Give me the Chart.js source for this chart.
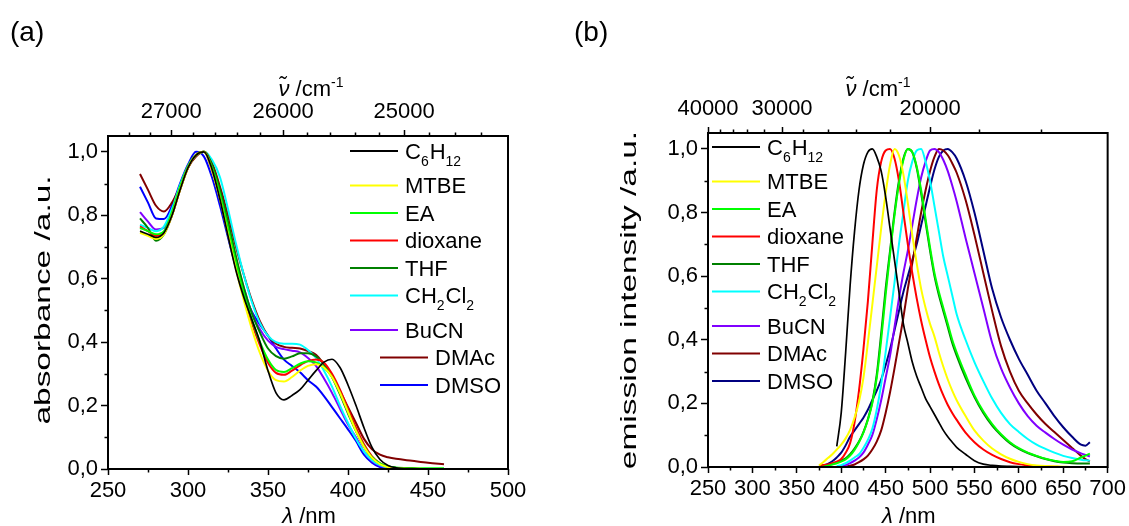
<!DOCTYPE html>
<html>
<head>
<meta charset="utf-8">
<script src="https://cdn.jsdelivr.net/npm/chart.js@4.4.1/dist/chart.umd.min.js"></script>
<style>
  html, body { margin: 0; padding: 0; background: #ffffff; }
  #wrap { position: relative; width: 1129px; height: 526px; overflow: hidden; background: #ffffff; }
  canvas { position: absolute; top: 0; }
  #absChart { left: 0; }
  #emChart { left: 564px; }
</style>
</head>
<body>
<div id="wrap">
  <canvas id="absChart" width="564" height="526"></canvas>
  <canvas id="emChart" width="565" height="526"></canvas>
</div>
<script>
// ---------- solvents ----------
const solvents = ['C6H12', 'MTBE', 'EA', 'dioxane', 'THF', 'CH2Cl2', 'BuCN', 'DMAc', 'DMSO'];
const absColors = ['#000000', '#ffff00', '#00ff00', '#ff0000', '#008000', '#00ffff', '#8000ff', '#800000', '#0000ff'];
const emColors  = ['#000000', '#ffff00', '#00ff00', '#ff0000', '#008000', '#00ffff', '#8000ff', '#800000', '#000080'];

// ---------- (a) absorbance, normalised ----------
const absWavelengths = [270, 275, 280, 285, 290, 295, 300, 305, 310, 315, 320, 325, 330, 335, 340, 345, 350, 355, 360,
  365, 370, 375, 380, 385, 390, 395, 400, 405, 410, 415, 420, 425, 430, 440, 450, 460];
const absC6H12   = [0.75, 0.74, 0.73, 0.745, 0.80, 0.88, 0.95, 0.99, 1.0, 0.945, 0.85, 0.735, 0.625, 0.54, 0.47, 0.40, 0.31, 0.24, 0.218,
  0.232, 0.25, 0.28, 0.31, 0.337, 0.346, 0.32, 0.265, 0.20, 0.13, 0.068, 0.03, 0.011, 0.004, 0.001, 0, 0];
const absMTBE    = [0.745, 0.735, 0.725, 0.74, 0.80, 0.88, 0.95, 0.99, 1.0, 0.94, 0.85, 0.74, 0.63, 0.53, 0.44, 0.365, 0.31, 0.28, 0.276,
  0.29, 0.31, 0.325, 0.33, 0.32, 0.29, 0.24, 0.18, 0.12, 0.07, 0.035, 0.015, 0.006, 0.002, 0.001, 0, 0];
const absEA      = [0.76, 0.75, 0.74, 0.75, 0.81, 0.89, 0.955, 0.99, 1.0, 0.95, 0.865, 0.76, 0.65, 0.55, 0.47, 0.40, 0.345, 0.312, 0.306,
  0.318, 0.332, 0.34, 0.336, 0.32, 0.29, 0.24, 0.18, 0.12, 0.072, 0.037, 0.018, 0.009, 0.005, 0.003, 0.002, 0.002];
const absDioxane = [0.765, 0.75, 0.735, 0.745, 0.80, 0.88, 0.95, 0.99, 1.0, 0.95, 0.86, 0.75, 0.64, 0.545, 0.46, 0.39, 0.335, 0.303, 0.297,
  0.31, 0.327, 0.34, 0.345, 0.335, 0.30, 0.25, 0.19, 0.13, 0.078, 0.04, 0.018, 0.008, 0.003, 0.001, 0, 0];
const absTHF     = [0.79, 0.76, 0.72, 0.74, 0.80, 0.88, 0.95, 0.99, 1.0, 0.96, 0.88, 0.78, 0.67, 0.57, 0.49, 0.43, 0.38, 0.356, 0.348,
  0.355, 0.365, 0.365, 0.355, 0.33, 0.29, 0.235, 0.175, 0.12, 0.07, 0.035, 0.016, 0.007, 0.003, 0.001, 0, 0];
const absCH2Cl2  = [0.77, 0.76, 0.75, 0.765, 0.82, 0.895, 0.955, 0.99, 1.0, 0.975, 0.92, 0.82, 0.71, 0.61, 0.525, 0.46, 0.42, 0.40, 0.395,
  0.395, 0.392, 0.375, 0.35, 0.31, 0.26, 0.20, 0.145, 0.095, 0.055, 0.028, 0.012, 0.005, 0.002, 0, 0, 0];
const absBuCN    = [0.81, 0.78, 0.755, 0.76, 0.815, 0.89, 0.955, 0.99, 1.0, 0.94, 0.86, 0.76, 0.66, 0.57, 0.49, 0.44, 0.405, 0.385, 0.378,
  0.373, 0.368, 0.35, 0.325, 0.285, 0.24, 0.19, 0.14, 0.10, 0.055, 0.025, 0.01, 0.004, 0.002, 0.001, 0, 0];
const absDMAc    = [0.93, 0.88, 0.83, 0.812, 0.84, 0.89, 0.95, 0.985, 1.0, 0.965, 0.89, 0.80, 0.70, 0.61, 0.53, 0.465, 0.42, 0.395, 0.385,
  0.382, 0.38, 0.372, 0.36, 0.33, 0.295, 0.245, 0.195, 0.145, 0.095, 0.062, 0.045, 0.037, 0.032, 0.026, 0.02, 0.015];
const absDMSO    = [0.89, 0.84, 0.79, 0.788, 0.83, 0.90, 0.96, 1.0, 0.985, 0.92, 0.83, 0.73, 0.635, 0.555, 0.495, 0.455, 0.42, 0.38, 0.345,
  0.325, 0.305, 0.28, 0.26, 0.23, 0.195, 0.16, 0.125, 0.088, 0.045, 0.02, 0.006, 0.002, 0, 0, 0, 0];
const absSeries = [absC6H12, absMTBE, absEA, absDioxane, absTHF, absCH2Cl2, absBuCN, absDMAc, absDMSO];

// ---------- (b) emission, normalised ----------
const emWavelengths = [375, 380, 385, 390, 395, 400, 405, 410, 415, 420, 425, 430, 435, 440, 445, 450, 455, 460, 465, 470,
  475, 480, 485, 490, 495, 500, 505, 510, 515, 520, 525, 530, 540, 550, 560, 570, 580, 590, 600, 610, 620, 630, 640, 650,
  660, 670, 675, 680];
const emC6H12   = [null, null, null, null, 0.065, 0.17, 0.36, 0.57, 0.74, 0.87, 0.95, 0.99, 1.0, 0.975, 0.93, 0.85, 0.75, 0.65,
  0.55, 0.45, 0.39, 0.33, 0.285, 0.25, 0.215, 0.19, 0.165, 0.14, 0.115, 0.095, 0.078, 0.062, 0.04, 0.02, 0.009, 0.005, 0.003,
  0.002, 0.001, 0, 0, 0, 0, 0, 0, 0, 0, 0];
const emMTBE    = [0.005, 0.016, 0.028, 0.04, 0.055, 0.07, 0.09, 0.117, 0.155, 0.205, 0.28, 0.39, 0.51, 0.63, 0.75, 0.86, 0.95,
  1.0, 0.98, 0.92, 0.83, 0.73, 0.64, 0.56, 0.50, 0.45, 0.41, 0.36, 0.315, 0.275, 0.24, 0.21, 0.16, 0.115, 0.083, 0.058, 0.04,
  0.026, 0.016, 0.009, 0.005, 0.003, 0.002, 0.001, 0, 0, 0, 0];
const emEA      = [0, 0.001, 0.004, 0.008, 0.012, 0.017, 0.024, 0.036, 0.054, 0.078, 0.108, 0.148, 0.2, 0.28, 0.4, 0.54, 0.67,
  0.79, 0.89, 0.965, 1.0, 0.99, 0.945, 0.87, 0.78, 0.69, 0.61, 0.55, 0.5, 0.45, 0.4, 0.36, 0.29, 0.225, 0.175, 0.135, 0.103,
  0.078, 0.059, 0.045, 0.035, 0.026, 0.02, 0.016, 0.018, 0.03, 0.036, 0.042];
const emDioxane = [0.005, 0.006, 0.008, 0.012, 0.017, 0.025, 0.045, 0.075, 0.14, 0.24, 0.37, 0.52, 0.70, 0.87, 0.96, 0.995,
  1.0, 0.97, 0.90, 0.80, 0.70, 0.61, 0.53, 0.46, 0.40, 0.345, 0.30, 0.26, 0.225, 0.195, 0.17, 0.148, 0.108, 0.078, 0.055,
  0.038, 0.025, 0.015, 0.009, 0.005, 0.003, 0.002, 0.001, 0, 0, 0, 0, 0];
const emTHF     = [0, 0.002, 0.006, 0.01, 0.015, 0.02, 0.027, 0.04, 0.058, 0.08, 0.11, 0.15, 0.205, 0.29, 0.42, 0.56, 0.68,
  0.8, 0.9, 0.97, 1.0, 0.99, 0.94, 0.86, 0.77, 0.68, 0.6, 0.54, 0.49, 0.44, 0.39, 0.35, 0.28, 0.22, 0.17, 0.13, 0.1, 0.075,
  0.057, 0.044, 0.034, 0.025, 0.018, 0.014, 0.012, 0.011, 0.011, 0.011];
const emCH2Cl2  = [null, null, null, null, 0.003, 0.006, 0.012, 0.02, 0.03, 0.04, 0.06, 0.085, 0.12, 0.18, 0.26, 0.36, 0.47,
  0.58, 0.7, 0.8, 0.9, 0.96, 0.995, 1.0, 0.96, 0.9, 0.82, 0.74, 0.66, 0.6, 0.54, 0.48, 0.4, 0.33, 0.27, 0.215, 0.17, 0.135,
  0.11, 0.088, 0.07, 0.057, 0.045, 0.035, 0.028, 0.023, 0.021, 0.02];
const emBuCN    = [null, null, null, null, 0.0, 0.002, 0.006, 0.012, 0.02, 0.03, 0.045, 0.07, 0.1, 0.15, 0.21, 0.28, 0.35,
  0.44, 0.53, 0.61, 0.68, 0.76, 0.84, 0.91, 0.96, 0.995, 1.0, 0.99, 0.965, 0.93, 0.885, 0.835, 0.72, 0.61, 0.5, 0.39, 0.31,
  0.25, 0.2, 0.16, 0.13, 0.108, 0.088, 0.07, 0.055, 0.043, 0.038, 0.033];
const emDMAc    = [null, null, null, null, null, 0.0, 0.001, 0.004, 0.008, 0.015, 0.024, 0.036, 0.055, 0.08, 0.115, 0.17,
  0.235, 0.31, 0.39, 0.47, 0.56, 0.64, 0.72, 0.8, 0.87, 0.93, 0.975, 1.0, 0.995, 0.98, 0.955, 0.925, 0.84, 0.73, 0.61, 0.49,
  0.38, 0.3, 0.24, 0.2, 0.165, 0.135, 0.11, 0.085, 0.06, 0.035, 0.025, 0.018];
const emDMSO    = [0.002, 0.005, 0.01, 0.018, 0.03, 0.045, 0.068, 0.095, 0.115, 0.135, 0.155, 0.18, 0.21, 0.24, 0.275, 0.32,
  0.37, 0.43, 0.49, 0.55, 0.6, 0.65, 0.7, 0.76, 0.82, 0.88, 0.935, 0.975, 0.995, 1.0, 0.99, 0.97, 0.9, 0.8, 0.68, 0.56, 0.47,
  0.4, 0.34, 0.29, 0.24, 0.2, 0.16, 0.125, 0.095, 0.07, 0.067, 0.078];
const emSeries = [emC6H12, emMTBE, emEA, emDioxane, emTHF, emCH2Cl2, emBuCN, emDMAc, emDMSO];

// ---------- axis ticks ----------
const yTicks = [0, 0.2, 0.4, 0.6, 0.8, 1.0];
const yMinorTicks = [0.1, 0.3, 0.5, 0.7, 0.9];
const lambdaTicksA = [250, 300, 350, 400, 450, 500];
const lambdaMinorA = [275, 325, 375, 425, 475];
const lambdaTicksB = [250, 300, 350, 400, 450, 500, 550, 600, 650, 700];
const lambdaMinorB = [275, 325, 375, 425, 475, 525, 575, 625, 675];
const wavenumberTicksA = [27000, 26000, 25000];      // cm-1
const wavenumberEdgesA = [27600, 24200];             // cm-1 at left / right frame
const wavenumberTicksB = [40000, 30000, 20000];      // cm-1

const FONT = "'Liberation Sans', Arial, Helvetica, sans-serif";
const FS = 22;

function range(a, b, step) { const out = []; for (let v = a; v <= b + 1e-9; v += step) out.push(v); return out; }
const wavenumberMinorA = range(24400, 27400, 200).filter(v => v % 1000 !== 0);
const wavenumberMinorB = range(16000, 38000, 2000).filter(v => v % 10000 !== 0);

const toLambda = nu => 1e7 / nu;
const commaLabel = v => v.toFixed(1).replace('.', ',');

function makeDatasets(series, wl, colors) {
  return series.map((vals, i) => ({
    label: solvents[i],
    data: wl.map((w, j) => ({ x: w, y: vals[j] })),
    borderColor: colors[i],
    backgroundColor: colors[i],
    borderWidth: i === 0 ? 1.7 : 2,
    pointRadius: 0,
    fill: false,
    cubicInterpolationMode: 'monotone',
    spanGaps: false
  }));
}

// text with digits set as subscripts (chemical formulae)
function drawFormula(ctx, text, x, y, size) {
  const parts = text.match(/\d+|\D+/g);
  let cx = x;
  ctx.textAlign = 'left';
  ctx.textBaseline = 'alphabetic';
  for (const p of parts) {
    const sub = /^\d+$/.test(p);
    ctx.font = (sub ? Math.round(size * 0.64) : size) + 'px ' + FONT;
    ctx.fillText(p, cx, sub ? y + size * 0.32 : y);
    cx += ctx.measureText(p).width + (sub ? 1 : 0);
  }
}

// text run list: {t, italic, sup}
function runsWidth(ctx, runs, size) {
  let w = 0;
  for (const r of runs) {
    ctx.font = (r.italic ? 'italic ' : '') + (r.sup ? Math.round(size * 0.62) : size) + 'px ' + FONT;
    w += ctx.measureText(r.t).width;
  }
  return w;
}
function drawRuns(ctx, runs, cx, y, size) {
  ctx.textAlign = 'left';
  ctx.textBaseline = 'alphabetic';
  let x = cx - runsWidth(ctx, runs, size) / 2;
  for (const r of runs) {
    ctx.font = (r.italic ? 'italic ' : '') + (r.sup ? Math.round(size * 0.62) : size) + 'px ' + FONT;
    ctx.fillText(r.t, x, r.sup ? y - size * 0.42 : y);
    x += ctx.measureText(r.t).width;
  }
}

const lambdaTitle = [{ t: 'λ', italic: true }, { t: ' /nm' }];
const wavenumberTitle = [{ t: 'ν\u0303', italic: true }, { t: ' /cm' }, { t: '-1', sup: true }];

// frame, minor ticks, legend and titles
const decor = {
  id: 'decor',
  afterDatasetsDraw(chart, args, o) {
    const { ctx, chartArea: a } = chart;
    const sx = chart.scales.x, sy = chart.scales.y, st = chart.scales.xTop;
    ctx.save();
    ctx.strokeStyle = '#000';
    ctx.lineWidth = 2;
    ctx.strokeRect(a.left, a.top, a.right - a.left, a.bottom - a.top);
    ctx.lineWidth = 1.5;
    ctx.beginPath();
    const m = 3.5;
    o.minorX.forEach(v => { const p = Math.round(sx.getPixelForValue(v)) + 0.5; ctx.moveTo(p, a.bottom); ctx.lineTo(p, a.bottom + m); });
    o.minorY.forEach(v => { const p = Math.round(sy.getPixelForValue(v)) + 0.5; ctx.moveTo(a.left, p); ctx.lineTo(a.left - m, p); });
    o.minorTop.forEach(v => { const p = Math.round(st.getPixelForValue(v)) + 0.5; ctx.moveTo(p, a.top); ctx.lineTo(p, a.top - m); });
    ctx.stroke();

    // legend
    ctx.fillStyle = '#000';
    let ly = a.top + o.legendTop;
    chart.data.datasets.forEach((ds, i) => {
      const shift = o.legendShift[i] || 0;
      const x0 = (o.legendFromRight ? a.right - o.legendX : a.left + o.legendX) + shift;
      ctx.strokeStyle = ds.borderColor;
      ctx.lineWidth = 2.2;
      ctx.beginPath();
      ctx.moveTo(x0, ly); ctx.lineTo(x0 + o.legendLine, ly);
      ctx.stroke();
      ctx.fillStyle = '#000';
      drawFormula(ctx, ds.label, x0 + o.legendLine + 7, ly + FS * 0.36, FS);
      ly += 27.5 + (/\d/.test(ds.label) ? 7 : 0);
    });

    // panel letter and axis titles
    ctx.fillStyle = '#000';
    ctx.textAlign = 'left';
    ctx.textBaseline = 'alphabetic';
    ctx.font = '28px ' + FONT;
    ctx.fillText(o.panel, o.panelX, 41);
    drawRuns(ctx, wavenumberTitle, o.topTitleX, 96, FS);
    drawRuns(ctx, lambdaTitle, (a.left + a.right) / 2 + 1, 523, FS);
    // vertical title, drawn with a wide set along its reading direction
    ctx.save();
    ctx.translate(o.yTitleX, o.yTitleY);
    ctx.rotate(-Math.PI / 2);
    ctx.scale(1.52, 1);
    ctx.font = FS + 'px ' + FONT;
    ctx.textAlign = 'center';
    ctx.fillText(o.yTitle, 0, 0);
    ctx.restore();
    ctx.restore();
  }
};

function tickFont() { return { family: FONT, size: FS }; }

function panelOptions(cfg) {
  return {
    responsive: false,
    animation: false,
    layout: { padding: { left: 0, right: cfg.padRight, top: 0, bottom: 0 } },
    plugins: { legend: { display: false }, tooltip: { enabled: false }, decor: cfg.decor },
    scales: {
      x: {
        type: 'linear', position: 'bottom', min: cfg.xMin, max: cfg.xMax, bounds: 'data',
        afterFit: s => { s.height = cfg.bottomH; },
        afterBuildTicks: s => { s.ticks = cfg.xTicks.map(v => ({ value: v })); },
        ticks: { font: tickFont(), color: '#000', padding: 3, maxRotation: 0, autoSkip: false, callback: v => String(v) },
        grid: { drawOnChartArea: false, tickLength: 6, tickWidth: 1.5, tickColor: '#000' },
        border: { display: false }
      },
      xTop: {
        type: 'linear', position: 'top', min: cfg.topMin, max: cfg.topMax, bounds: 'data',
        afterFit: s => { s.height = cfg.topH; },
        afterBuildTicks: s => { s.ticks = cfg.topTicks.map(nu => ({ value: toLambda(nu) })); },
        ticks: { font: tickFont(), color: '#000', padding: 5, maxRotation: 0, autoSkip: false,
                 callback: v => String(Math.round(1e7 / v)) },
        grid: { drawOnChartArea: false, tickLength: 6, tickWidth: 1.5, tickColor: '#000' },
        border: { display: false }
      },
      y: {
        type: 'linear', position: 'left', min: 0, max: 1.05, bounds: 'data',
        afterFit: s => { s.width = cfg.leftW; },
        afterBuildTicks: s => { s.ticks = yTicks.map(v => ({ value: v })); },
        ticks: { font: tickFont(), color: '#000', padding: 3, callback: v => commaLabel(v) },
        grid: { drawOnChartArea: false, tickLength: 7, tickWidth: 1.5, tickColor: '#000' },
        border: { display: false }
      }
    }
  };
}

new Chart(document.getElementById('absChart'), {
  type: 'line',
  data: { datasets: makeDatasets(absSeries, absWavelengths, absColors) },
  options: panelOptions({
    padRight: 56, leftW: 108, topH: 136, bottomH: 57,
    xMin: 250, xMax: 500, xTicks: lambdaTicksA,
    topMin: toLambda(wavenumberEdgesA[0]), topMax: toLambda(wavenumberEdgesA[1]), topTicks: wavenumberTicksA,
    decor: {
      minorX: lambdaMinorA, minorY: yMinorTicks, minorTop: wavenumberMinorA.map(toLambda),
      legendFromRight: true, legendX: 158, legendTop: 15, legendLine: 48,
      legendShift: [0, 0, 0, 0, 0, 0, 0, 30, 30],
      panel: '(a)', panelX: 10, topTitleX: 311,
      yTitle: 'absorbance /a.u.', yTitleX: 50, yTitleY: 300
    }
  }),
  plugins: [decor]
});

new Chart(document.getElementById('emChart'), {
  type: 'line',
  data: { datasets: makeDatasets(emSeries, emWavelengths, emColors) },
  options: panelOptions({
    padRight: 21, leftW: 144, topH: 133, bottomH: 59,
    xMin: 250, xMax: 700, xTicks: lambdaTicksB,
    topMin: 250, topMax: 700, topTicks: wavenumberTicksB,
    decor: {
      minorX: lambdaMinorB, minorY: yMinorTicks, minorTop: wavenumberMinorB.map(toLambda),
      legendFromRight: false, legendX: 4, legendTop: 14, legendLine: 48,
      legendShift: [],
      panel: '(b)', panelX: 10, topTitleX: 314,
      yTitle: 'emission intensity /a.u.', yTitleX: 72, yTitleY: 300
    }
  }),
  plugins: [decor]
});
</script>
</body>
</html>
